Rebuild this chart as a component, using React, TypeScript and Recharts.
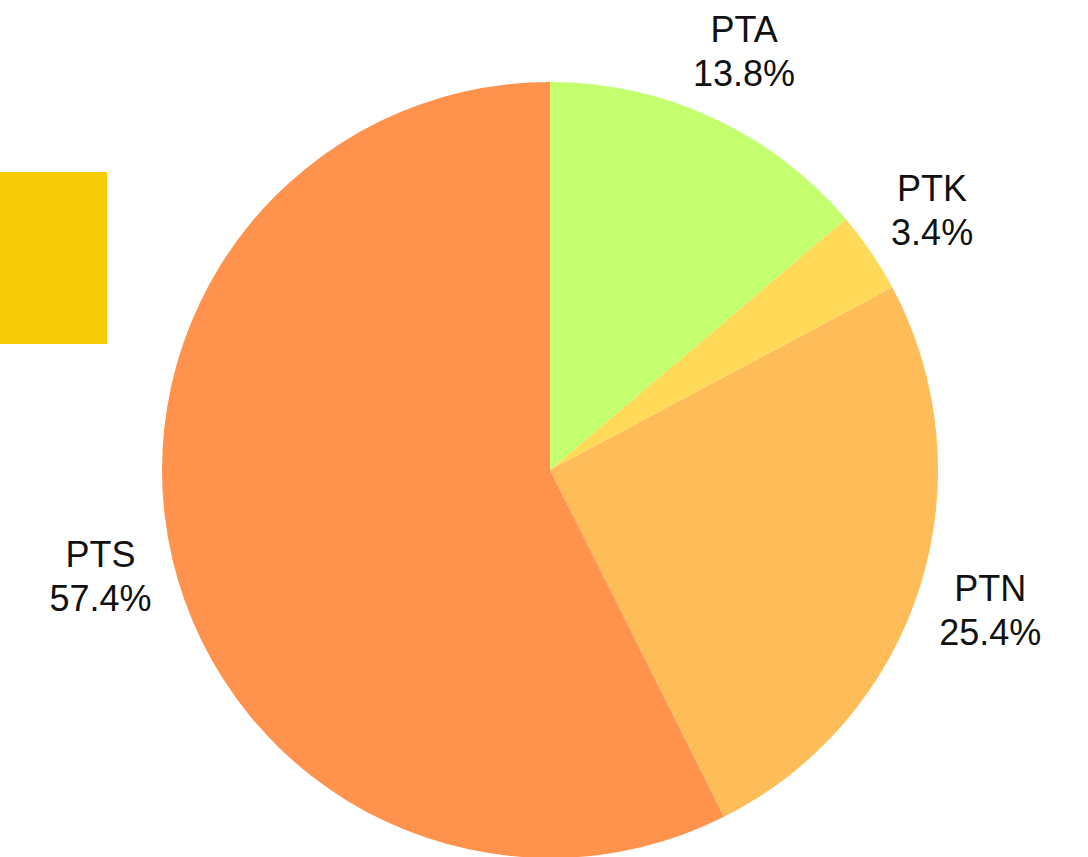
import { PieChart, Pie, Cell } from "recharts";

const names = ["PTA", "PTK", "PTN", "PTS"];
const shares = [13.8, 3.4, 25.4, 57.4];
const colors = ["#C3FF6F", "#FFDA59", "#FFBD5A", "#FF934E"];

const pieData = names.map((name, i) => ({ name, value: shares[i] }));

const RADIAN = Math.PI / 180;

const renderLabel = (props: any) => {
  const { cx, cy, midAngle, outerRadius, name, percent } = props;
  const r = outerRadius + 74;
  const x = cx + r * Math.cos(-midAngle * RADIAN);
  const y = cy + r * Math.sin(-midAngle * RADIAN);
  return (
    <text
      x={x}
      y={y}
      textAnchor="middle"
      fill="#111"
      fontSize={36}
      fontFamily="'Liberation Sans', Arial, sans-serif"
    >
      <tspan x={x} y={y - 9}>
        {name}
      </tspan>
      <tspan x={x} y={y + 35}>
        {(percent * 100).toFixed(1)}%
      </tspan>
    </text>
  );
};

export default function App() {
  return (
    <div style={{ position: "absolute", left: 0, top: 0, width: 1088, height: 857, background: "#fff" }}>
      <div
        style={{
          position: "absolute",
          left: 0,
          top: 172,
          width: 107,
          height: 172,
          background: "#F7CC06",
        }}
      />
      <PieChart
        width={1088}
        height={857}
        margin={{ top: 0, right: 0, bottom: 0, left: 0 }}
        style={{ position: "absolute", left: 0, top: 0 }}
      >
        <Pie
          data={pieData}
          dataKey="value"
          nameKey="name"
          cx={550}
          cy={470}
          outerRadius={388}
          startAngle={90}
          endAngle={-270}
          stroke="none"
          label={renderLabel}
          labelLine={false}
          isAnimationActive={false}
        >
          {pieData.map((d, i) => (
            <Cell key={d.name} fill={colors[i]} />
          ))}
        </Pie>
      </PieChart>
    </div>
  );
}
